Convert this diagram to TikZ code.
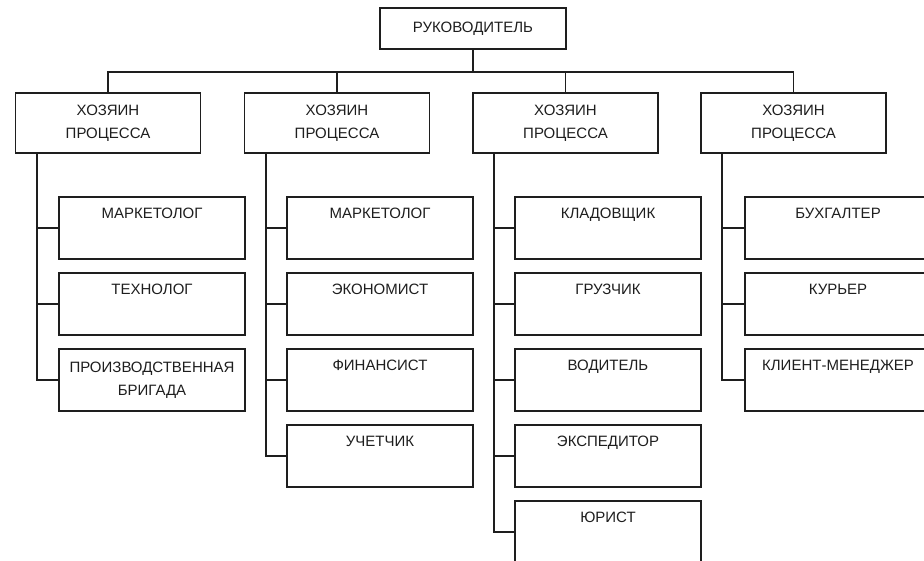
\documentclass[tikz,border=0pt]{standalone}
\usepackage{fontspec}
\setmainfont{Liberation Sans}
\usetikzlibrary{positioning}

\definecolor{ink}{HTML}{1E1E1E}

\tikzset{
    chief/.style={draw=ink, line width=1.6pt, minimum width=186pt, minimum height=41pt, inner sep=0pt},
    owner/.style={draw=ink, line width=1.6pt, minimum width=185pt, minimum height=60pt, inner sep=0pt, align=center},
    role/.style={draw=ink, line width=1.6pt, minimum width=186pt, minimum height=62pt, inner sep=0pt, align=center},
    link/.style={draw=ink, line width=1.6pt}
}

\begin{document}
\begin{tikzpicture}[x=1pt, y=-1pt, font=\fontsize{15}{23}\selectfont, text=ink]
    \clip (0,0) rectangle (924,561);
    \fill[white] (0,0) rectangle (924,561);

    \node[chief] (boss) at (473,28.5) {РУКОВОДИТЕЛЬ};

    \node[owner] (owner1) at (108,123) {ХОЗЯИН\\ПРОЦЕССА};
    \node[owner] (owner2) at (337,123) {ХОЗЯИН\\ПРОЦЕССА};
    \node[owner] (owner3) at (565.5,123) {ХОЗЯИН\\ПРОЦЕССА};
    \node[owner] (owner4) at (793.5,123) {ХОЗЯИН\\ПРОЦЕССА};

    % first process
    \node[role] (role11) at (152,228) {МАРКЕТОЛОГ\\\strut};
    \node[role] (role12) at (152,304) {ТЕХНОЛОГ\\\strut};
    \node[role] (role13) at (152,380) {ПРОИЗВОДСТВЕННАЯ\\БРИГАДА};

    % second process
    \node[role] (role21) at (380,228) {МАРКЕТОЛОГ\\\strut};
    \node[role] (role22) at (380,304) {ЭКОНОМИСТ\\\strut};
    \node[role] (role23) at (380,380) {ФИНАНСИСТ\\\strut};
    \node[role] (role24) at (380,456) {УЧЕТЧИК\\\strut};

    % third process
    \node[role] (role31) at (608,228) {КЛАДОВЩИК\\\strut};
    \node[role] (role32) at (608,304) {ГРУЗЧИК\\\strut};
    \node[role] (role33) at (608,380) {ВОДИТЕЛЬ\\\strut};
    \node[role] (role34) at (608,456) {ЭКСПЕДИТОР\\\strut};
    \node[role] (role35) at (608,532) {ЮРИСТ\\\strut};

    % fourth process
    \node[role] (role41) at (838,228) {БУХГАЛТЕР\\\strut};
    \node[role] (role42) at (838,304) {КУРЬЕР\\\strut};
    \node[role] (role43) at (838,380) {КЛИЕНТ-МЕНЕДЖЕР\\\strut};

    \draw[link] (boss.south) -- ++(0,22.5) -| (owner1.north);
    \draw[link] (boss.south) -- ++(0,22.5) -| (owner2.north);
    \draw[link] (boss.south) -- ++(0,22.5) -| (owner3.north);
    \draw[link] (boss.south) -- ++(0,22.5) -| (owner4.north);

    \draw[link] ([xshift=22pt]owner1.south west) |- (role11.west);
    \draw[link] ([xshift=22pt]owner1.south west) |- (role12.west);
    \draw[link] ([xshift=22pt]owner1.south west) |- (role13.west);

    \draw[link] ([xshift=22pt]owner2.south west) |- (role21.west);
    \draw[link] ([xshift=22pt]owner2.south west) |- (role22.west);
    \draw[link] ([xshift=22pt]owner2.south west) |- (role23.west);
    \draw[link] ([xshift=22pt]owner2.south west) |- (role24.west);

    \draw[link] ([xshift=22pt]owner3.south west) |- (role31.west);
    \draw[link] ([xshift=22pt]owner3.south west) |- (role32.west);
    \draw[link] ([xshift=22pt]owner3.south west) |- (role33.west);
    \draw[link] ([xshift=22pt]owner3.south west) |- (role34.west);
    \draw[link] ([xshift=22pt]owner3.south west) |- (role35.west);

    \draw[link] ([xshift=22pt]owner4.south west) |- (role41.west);
    \draw[link] ([xshift=22pt]owner4.south west) |- (role42.west);
    \draw[link] ([xshift=22pt]owner4.south west) |- (role43.west);
\end{tikzpicture}
\end{document}
